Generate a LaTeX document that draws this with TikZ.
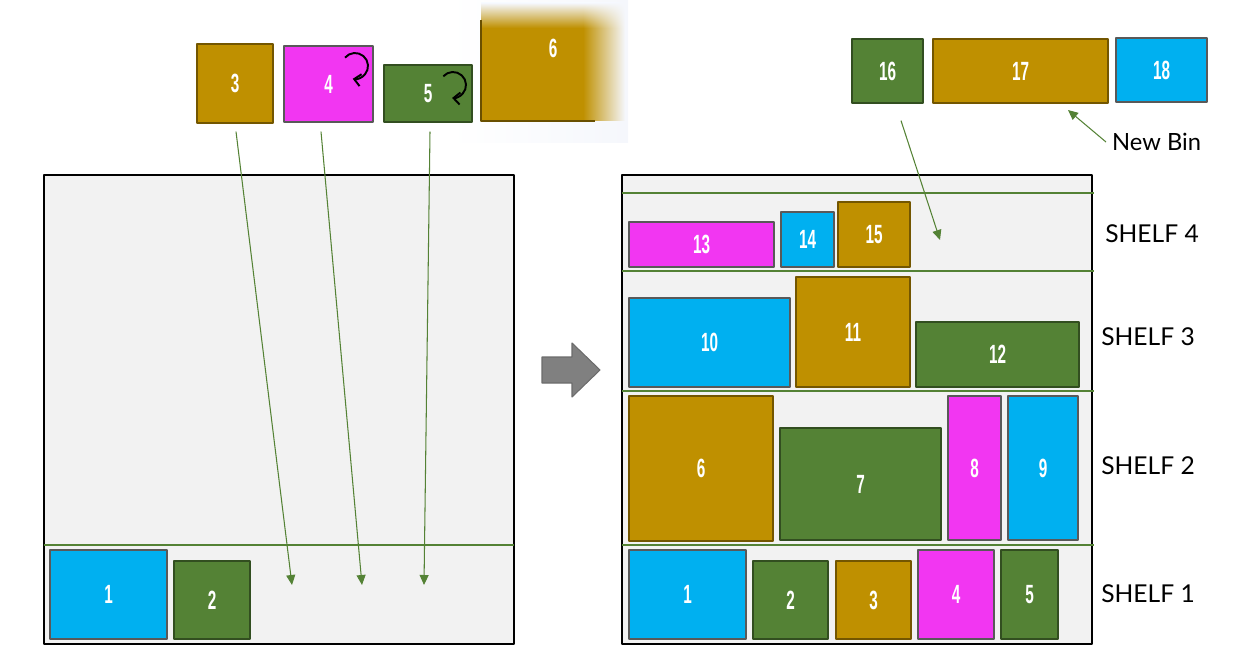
\documentclass[tikz,border=0pt]{standalone}
\usepackage{fontspec}
\setmainfont{Lato}
\newfontfamily\numfont[FakeStretch=0.58]{Liberation Sans}
\usetikzlibrary{arrows.meta,calc,fit,shadings}

\definecolor{itemblue}{HTML}{00B0F0}
\definecolor{itemgreen}{HTML}{548235}
\definecolor{itemgold}{HTML}{BF9000}
\definecolor{itempink}{HTML}{F236F2}
\definecolor{binfill}{HTML}{F2F2F2}
\definecolor{fadebg}{HTML}{F5F7FC}

\begin{document}
\begin{tikzpicture}[
  x=0.02cm, y=-0.02cm,
    line join=round,
    bin/.style={draw=black, line width=0.8pt, fill=binfill, inner sep=0pt},
    shelfline/.style={draw=itemgreen, line width=1.2pt},
    num/.style={text=white, inner sep=0pt, font=\numfont\bfseries\fontsize{15}{15}\selectfont},
    item/.style={fill=#1, inner sep=0pt, line width=0.7pt},
    blueitem/.style={item=itemblue, draw=black!65},
    greenitem/.style={item=itemgreen, draw=itemgreen!60!black},
    golditem/.style={item=itemgold, draw=itemgold!60!black},
    pinkitem/.style={item=itempink, draw=black!65},
    drop/.style={itemgreen, line width=0.6pt,
    -{Triangle[length=2mm, width=1.8mm]}},
    turn/.style={line width=1.1pt, -{Straight Barb[length=1.3mm, width=2.4mm]}},
    shelflabel/.style={font=\fontsize{14}{14}\selectfont}
  ]

\useasboundingbox (0,0) rectangle (1242,652);

% ============================================================
% LEFT: incoming items and the bin with one open shelf
% ============================================================
% item 6 coming in, blurred
\shade[left color=white, right color=fadebg] (450,0) rectangle (628,143);
\fill[itemgold] (481,28) rectangle (583,121);
\shade[left color=itemgold, right color=fadebg] (583,28) rectangle (625,121);
\shade[top color=fadebg, bottom color=itemgold] (481,3) rectangle (583,28);
\shade[lower left=itemgold, upper left=fadebg, upper right=fadebg,
  lower right=fadebg] (583,3) rectangle (625,28);
\draw[itemgold!55!black, line width=0.6pt] (481,20) -- (481,121) -- (595,121);
\node[num] (t6) at (553,48) {6};

\node[golditem, fit={(197,44) (273,123)}, label={[num]center:3}] (t3) {};
\node[pinkitem, fit={(284,46) (373,122)}, label={[num]center:4}] (t4) {};
\node[greenitem, fit={(384,65) (472,122)}, label={[num]center:5}] (t5) {};

% rotated before placing
\draw[turn] (355,66) ++(-140:13) arc[start angle=-140, end angle=100, radius=13];
\draw[turn] (453,85) ++(-138:13) arc[start angle=-138, end angle=94, radius=13];

\node[bin, fit={(44,175) (514,644)}] (binL) {};
\draw[shelfline] (44,545) -- (514,545);

\node[blueitem, fit={(50,550) (167,639)}, label={[num]center:1}] (l1) {};
\node[greenitem, fit={(174,561) (250,639)}, label={[num]center:2}] (l2) {};

\coordinate (d3) at (292,585);
\coordinate (d4) at (362,585);
\coordinate (d5) at (424,585);

\draw[drop] ($(t3.south)+(1,8)$) -- (d3);
\draw[drop] ($(t4.south)+(-7.5,9)$) -- (d4);
\draw[drop] ($(t5.south)+(2,9)$) -- (d5);

% block arrow between the two states
\draw[fill=gray, draw=gray!85!black, line width=0.6pt]
  (542,357) -- (572,357) -- (572,343) -- (600,370)
  -- (572,397) -- (572,383) -- (542,383) -- cycle;

% ============================================================
% RIGHT: filled bin, four shelves, and the next bin
% ============================================================
\node[bin, fit={(622,175) (1092,644)}] (binR) {};
\draw[shelfline] (622,193) -- (1094,193);
\draw[shelfline] (622,271) -- (1094,271);
\draw[shelfline] (622,391) -- (1094,391);
\draw[shelfline] (622,545) -- (1094,545);

% shelf 1
\node[blueitem, fit={(629,550) (746,639)}, label={[num]center:1}] (r1) {};
\node[greenitem, fit={(753,561) (828,639)}, label={[num]center:2}] (r2) {};
\node[golditem, fit={(836,561) (911,639)}, label={[num]center:3}] (r3) {};
\node[pinkitem, fit={(918,550) (994,639)}, label={[num]center:4}] (r4) {};
\node[greenitem, fit={(1001,550) (1058,639)}, label={[num]center:5}] (r5) {};

% shelf 2
\node[golditem, fit={(629,396) (773,541)}, label={[num]center:6}] (r6) {};
\node[greenitem, fit={(780,428) (941,540)}, label={[num]center:7}] (r7) {};
\node[pinkitem, fit={(948,396) (1001,540)}, label={[num]center:8}] (r8) {};
\node[blueitem, fit={(1008,396) (1078,540)}, label={[num]center:9}] (r9) {};

% shelf 3
\node[blueitem, fit={(629,298) (790,387)}, label={[num]center:10}] (r10) {};
\node[golditem, fit={(796,277) (910,387)}, label={[num]center:11}] (r11) {};
\node[greenitem, fit={(916,322) (1079,387)}, label={[num]center:12}] (r12) {};

% shelf 4
\node[pinkitem, fit={(629,222) (774,267)}, label={[num]center:13}] (r13) {};
\node[blueitem, fit={(781,212) (834,267)}, label={[num]center:14}] (r14) {};
\node[golditem, fit={(838,202) (910,267)}, label={[num]center:15}] (r15) {};

% items that go on
\node[greenitem, fit={(852,39) (923,103)}, label={[num]center:16}] (n16) {};
\node[golditem, fit={(933,39) (1108,103)}, label={[num]center:17}] (n17) {};
\node[blueitem, fit={(1116,38) (1207,102)}, label={[num]center:18}] (n18) {};

\coordinate (d16) at (940,240);
\draw[drop] ($(n16.south)+(13.5,17)$) -- (d16);

\node[font=\fontsize{13.5}{14}\selectfont, anchor=west] (newbin) at (1106,142) {New Bin};
\coordinate (nb) at (1068,110);
\draw[drop] (newbin.west) -- (nb);

% shelf labels
\node[shelflabel] (shelf4) at (1152,234) {SHELF 4};
\node[shelflabel] (shelf3) at (1148,337) {SHELF 3};
\node[shelflabel] (shelf2) at (1148,466) {SHELF 2};
\node[shelflabel] (shelf1) at (1148,594) {SHELF 1};

\end{tikzpicture}
\end{document}
